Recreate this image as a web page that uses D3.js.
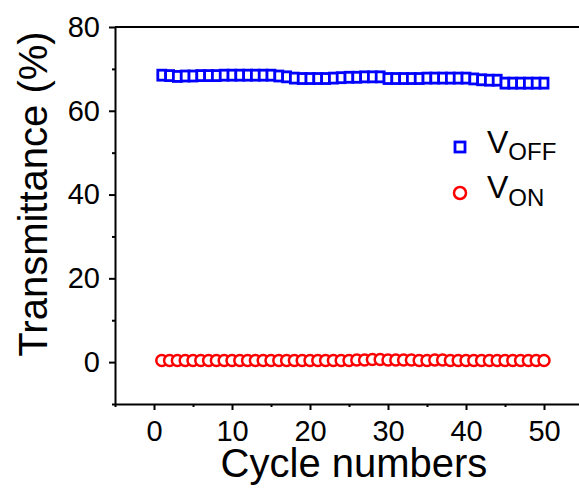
<!DOCTYPE html>
<html>
<head>
<meta charset="utf-8">
<script src="https://cdn.jsdelivr.net/npm/d3@7"></script>
<style>
  body { margin: 0; background: #fff; }
  svg { display: block; font-family: Arial, "Liberation Sans", sans-serif; }
  .axis path, .axis line { stroke: #000; stroke-width: 2; }
  .axis text { fill: #000; font-size: 29px; }
</style>
</head>
<body>
<svg id="graph-svg" width="579" height="488"></svg>
<script>
'use strict';

/* -- Data --------------------------------------------------------------- */
const cycles = [1, 2, 3, 4, 5, 6, 7, 8, 9, 10, 11, 12, 13, 14, 15, 16, 17, 18, 19, 20,
    21, 22, 23, 24, 25, 26, 27, 28, 29, 30, 31, 32, 33, 34, 35, 36, 37, 38, 39, 40,
    41, 42, 43, 44, 45, 46, 47, 48, 49, 50];
const vOff = [68.5, 68.4, 68.2, 68.3, 68.3, 68.4, 68.4, 68.4, 68.5, 68.5,
    68.5, 68.5, 68.5, 68.5, 68.5, 68.3, 68.1, 67.8, 67.7, 67.7,
    67.7, 67.7, 67.8, 67.9, 68.0, 68.0, 68.1, 68.1, 68.1, 67.7,
    67.7, 67.7, 67.7, 67.7, 67.8, 67.8, 67.8, 67.8, 67.8, 67.8,
    67.6, 67.4, 67.3, 67.3, 66.6, 66.6, 66.6, 66.6, 66.6, 66.6];
const vOn = [0.4, 0.4, 0.4, 0.4, 0.4, 0.4, 0.4, 0.4, 0.4, 0.4,
    0.4, 0.4, 0.4, 0.4, 0.4, 0.4, 0.4, 0.4, 0.4, 0.4,
    0.4, 0.4, 0.4, 0.4, 0.4, 0.5, 0.5, 0.6, 0.6, 0.5,
    0.5, 0.5, 0.5, 0.4, 0.4, 0.5, 0.5, 0.4, 0.4, 0.4,
    0.4, 0.4, 0.4, 0.4, 0.4, 0.4, 0.4, 0.4, 0.4, 0.4];
const xMajorTicks = [0, 10, 20, 30, 40, 50];
const xMinorTicks = [-5, 5, 15, 25, 35, 45, 55];
const yMajorTicks = [0, 20, 40, 60, 80];
const yMinorTicks = [-10, 10, 30, 50, 70];

/* -- Layout ------------------------------------------------------------- */
const margin = { top: 27, left: 115, bottom: 84 };
const svg = d3.select('#graph-svg');
const svgH = 488;
const plotBottom = svgH - margin.bottom;
const plotRight = 583; // right frame falls just past the picture edge

const xScale = d3.scaleLinear().domain([-5, 55]).range([margin.left, plotRight]);
const yScale = d3.scaleLinear().domain([-10, 80]).range([plotBottom, margin.top]);

/* -- Minor ticks first, then the major axes ------------------------------ */
svg.append('g')
    .attr('class', 'x axis minor')
    .attr('transform', 'translate(0,' + plotBottom + ')')
    .call(d3.axisBottom(xScale).tickValues(xMinorTicks).tickSize(3).tickFormat(''))
    .select('.domain').remove();

svg.append('g')
    .attr('class', 'y axis minor')
    .attr('transform', 'translate(' + margin.left + ',0)')
    .call(d3.axisLeft(yScale).tickValues(yMinorTicks).tickSize(3).tickFormat(''))
    .select('.domain').remove();

svg.append('g')
    .attr('class', 'x axis')
    .attr('transform', 'translate(0,' + plotBottom + ')')
    .call(d3.axisBottom(xScale).tickValues(xMajorTicks).tickSize(6).tickSizeOuter(0).tickPadding(10));

svg.append('g')
    .attr('class', 'y axis')
    .attr('transform', 'translate(' + margin.left + ',0)')
    .call(d3.axisLeft(yScale).tickValues(yMajorTicks).tickSize(6).tickSizeOuter(0).tickPadding(9));

// top frame line
svg.append('line')
    .attr('x1', margin.left).attr('x2', plotRight)
    .attr('y1', yScale(80)).attr('y2', yScale(80))
    .attr('stroke', '#000').attr('stroke-width', 2);

/* -- Series -------------------------------------------------------------- */
const sqW = 8, sqH = 10;
svg.append('g').selectAll('rect')
    .data(cycles)
    .enter()
    .append('rect')
    .attr('x', function(d) { return xScale(d) - sqW / 2; })
    .attr('y', function(d, i) { return yScale(vOff[i]) - sqH / 2; })
    .attr('width', sqW)
    .attr('height', sqH)
    .attr('fill', '#fff')
    .attr('stroke', '#0000ff')
    .attr('stroke-width', 2.8);

svg.append('g').selectAll('circle')
    .data(cycles)
    .enter()
    .append('circle')
    .attr('cx', function(d) { return xScale(d); })
    .attr('cy', function(d, i) { return yScale(vOn[i]); })
    .attr('r', 5.5)
    .attr('fill', '#fff')
    .attr('stroke', '#ff0000')
    .attr('stroke-width', 2.5);

/* -- Axis titles --------------------------------------------------------- */
svg.append('text')
    .attr('x', 354)
    .attr('y', 477)
    .attr('text-anchor', 'middle')
    .attr('font-size', 40)
    .text('Cycle numbers');

svg.append('text')
    .attr('transform', 'translate(47,194) rotate(-90)')
    .attr('text-anchor', 'middle')
    .attr('font-size', 40)
    .text('Transmittance (%)');

/* -- Legend -------------------------------------------------------------- */
const legend = svg.append('g');
legend.append('rect')
    .attr('x', 460 - 5).attr('y', 147 - 5)
    .attr('width', 10).attr('height', 10)
    .attr('fill', '#fff').attr('stroke', '#0000ff').attr('stroke-width', 2.8);
legend.append('circle')
    .attr('cx', 460).attr('cy', 193).attr('r', 6)
    .attr('fill', '#fff').attr('stroke', '#ff0000').attr('stroke-width', 2.5);

const offText = legend.append('text').attr('x', 487).attr('y', 153).attr('font-size', 32);
offText.append('tspan').text('V');
offText.append('tspan').attr('dy', 7).attr('font-size', 24).text('OFF');

const onText = legend.append('text').attr('x', 487).attr('y', 198).attr('font-size', 32);
onText.append('tspan').text('V');
onText.append('tspan').attr('dy', 8).attr('font-size', 24).text('ON');
</script>
</body>
</html>
